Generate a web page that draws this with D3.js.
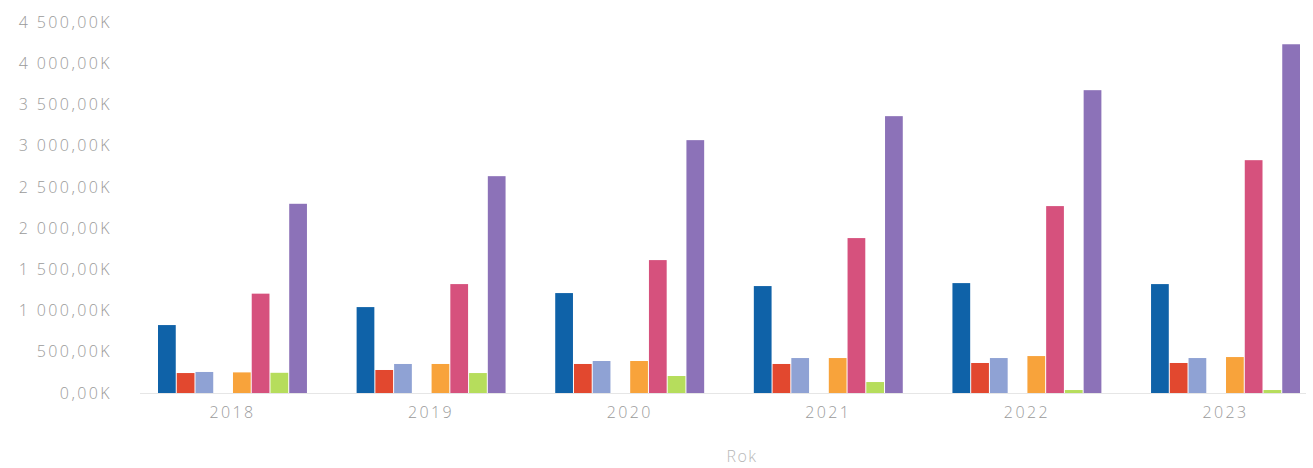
<!DOCTYPE html>
<html><head><meta charset="utf-8">
<script src="https://cdn.jsdelivr.net/npm/d3@7"></script>
<style>
html,body{margin:0;padding:0;background:#fff;}
svg{display:block;font-family:"Open Sans",sans-serif;}
</style></head>
<body><svg id="c" width="1313" height="468"></svg>
<script>
const years = ["2018","2019","2020","2021","2022","2023"];
const seriesNames = ["S1","S2","S3","S4","S5","S6","S7","S8"];
const seriesColors = ["#0f62a8","#e2482f","#8fa2d4","#cccccc","#f8a33b","#d6517d","#b6dd5c","#8c72b8"];
const s1 = [824, 1042, 1212, 1297, 1333, 1321];
const s2 = [242, 279, 352, 352, 364, 364];
const s3 = [255, 352, 388, 424, 424, 424];
const s4 = [0, 0, 0, 0, 0, 0];
const s5 = [250, 352, 388, 424, 448, 436];
const s6 = [1205, 1321, 1612, 1879, 2267, 2824];
const s7 = [245, 242, 206, 133, 36, 36];
const s8 = [2295, 2630, 3067, 3358, 3673, 4230];
const seriesValues = [s1,s2,s3,s4,s5,s6,s7,s8];
const yTicks = [0,500,1000,1500,2000,2500,3000,3500,4000,4500];
const axisTitle = "Rok";

const svg = d3.select("#c");
const fmt = v => {
  const s = d3.format(",.2f")(v).replace(/,/g," ").replace(".",",");
  return s + "K";
};
const x0 = d3.scaleBand().domain(years).range([144,1314]).paddingInner(0.245).paddingOuter(0.068);
const x1 = d3.scaleBand().domain(seriesNames).range([0,x0.bandwidth()]).padding(0);
const y = d3.scaleLinear().domain([0,4500]).range([393,22]);

// baseline
svg.append("line").attr("x1",140).attr("x2",1306).attr("y1",y(0)+0.5).attr("y2",y(0)+0.5)
  .attr("stroke","#e6e6e6").attr("stroke-width",1);

// y axis labels
const yAxis = d3.axisLeft(y).tickValues(yTicks).tickFormat(fmt).tickSize(0).tickPadding(0);
const gy = svg.append("g").attr("transform","translate(112,0)").call(yAxis);
gy.select(".domain").remove();
gy.selectAll("text").attr("fill","#9a9a9a").style("font-family","'Open Sans',sans-serif")
  .style("font-size","16px").style("letter-spacing","2.4px").style("font-weight","300");

// x axis labels
const xAxis = d3.axisBottom(x0).tickSize(0).tickPadding(0);
const gx = svg.append("g").attr("transform","translate(0,403)").call(xAxis);
gx.select(".domain").remove();
gx.selectAll("text").attr("fill","#9a9a9a").style("font-family","'Open Sans',sans-serif")
  .style("font-size","16px").style("letter-spacing","2.4px").style("font-weight","300").attr("dy","0.95em");

// bars
const groups = svg.append("g").selectAll("g").data(years).join("g")
  .attr("transform", d => `translate(${x0(d)},0)`);
groups.selectAll("rect").data((d,i) => seriesNames.map((s,j)=>({s, v: seriesValues[j][i], c: seriesColors[j]})))
  .join("rect")
  .attr("x", d => x1(d.s)+0.5)
  .attr("width", x1.bandwidth()-1)
  .attr("y", d => y(d.v))
  .attr("height", d => y(0)-y(d.v))
  .attr("fill", d => d.c);

svg.append("text").attr("x",742).attr("y",462).attr("text-anchor","middle")
  .attr("fill","#b8b8b8").style("font-family","'Open Sans',sans-serif")
  .style("font-size","16px").style("letter-spacing","1.5px").style("font-weight","300").text(axisTitle);
</script></body></html>
